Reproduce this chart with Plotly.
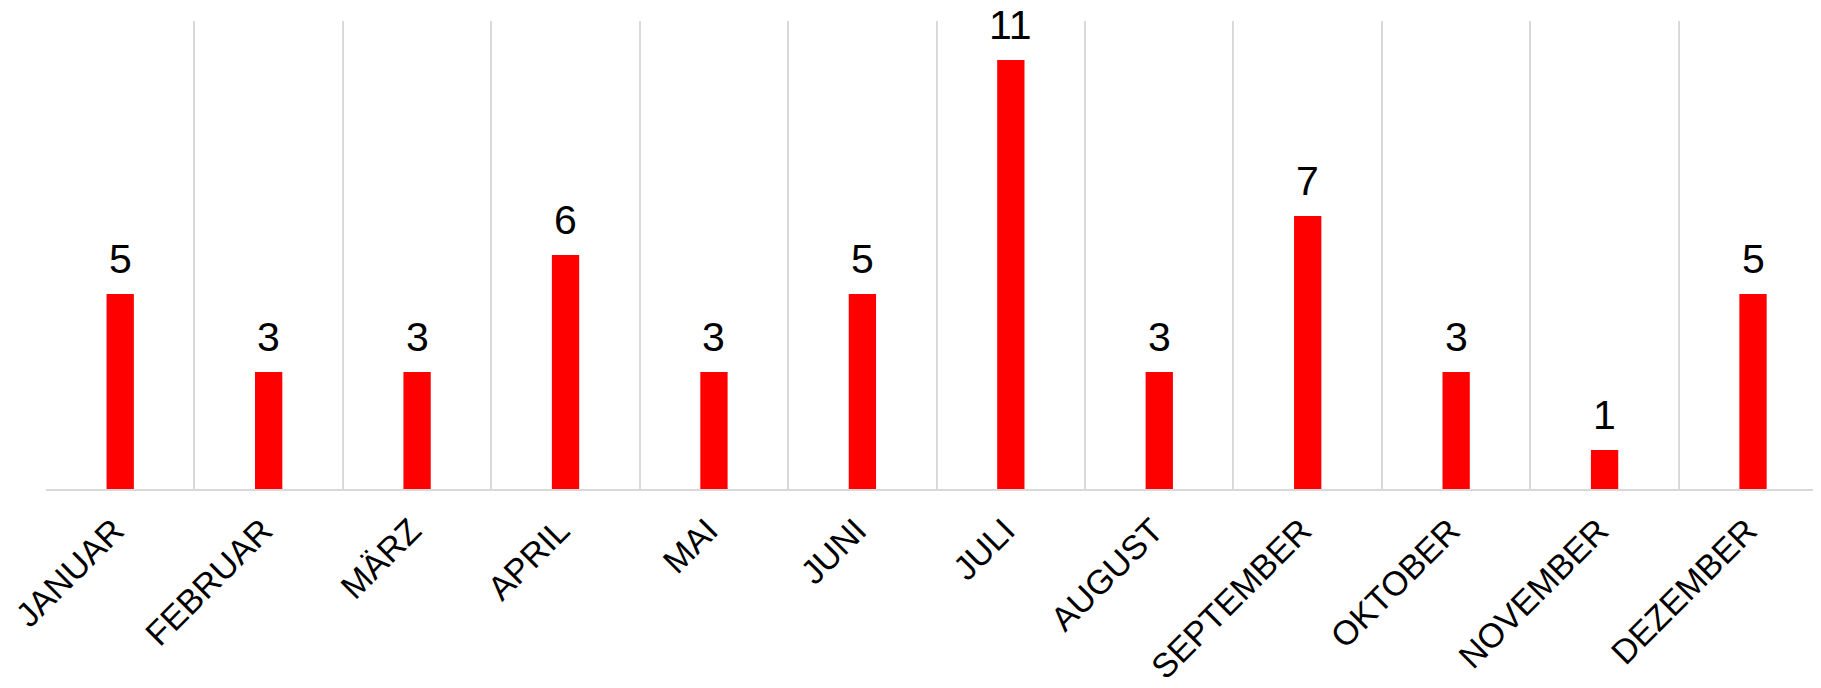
import plotly.graph_objects as go

months = ["JANUAR", "FEBRUAR", "MÄRZ", "APRIL", "MAI", "JUNI", "JULI",
          "AUGUST", "SEPTEMBER", "OKTOBER", "NOVEMBER", "DEZEMBER"]
counts = [5, 3, 3, 6, 3, 5, 11, 3, 7, 3, 1, 5]

font = "Liberation Sans, Arial, sans-serif"

fig = go.Figure()
fig.add_trace(go.Bar(x=months, y=counts, width=0.184,
                     marker=dict(color="#ff0000", line=dict(width=0))))

# value labels above each bar
for m, c in zip(months, counts):
    fig.add_annotation(x=m, y=c, text=str(c), showarrow=False,
                       yanchor="bottom", yshift=11, borderpad=0,
                       font=dict(family=font, size=41, color="#000000"))

# page body has an 8px margin, so the figure is sized to fit inside it
fig.update_layout(
    width=1813, height=680,
    margin=dict(l=36, r=0, t=13, b=199),
    plot_bgcolor="white", paper_bgcolor="white",
    showlegend=False,
    font=dict(family=font, color="#000000"),
)
fig.update_xaxes(range=[-0.5, 11.458], tickson="boundaries", showgrid=True,
                 gridcolor="#d9d9d9", gridwidth=1.5,
                 showline=True, linecolor="#d9d9d9", linewidth=2,
                 ticks="", tickangle=-45, ticklabelstandoff=6,
                 ticklabelshift=-6,
                 tickfont=dict(family=font, size=34, color="#000000"))
fig.update_yaxes(range=[0, 12], showgrid=False, showticklabels=False,
                 zeroline=False, showline=False)

fig.write_html("out.html")
